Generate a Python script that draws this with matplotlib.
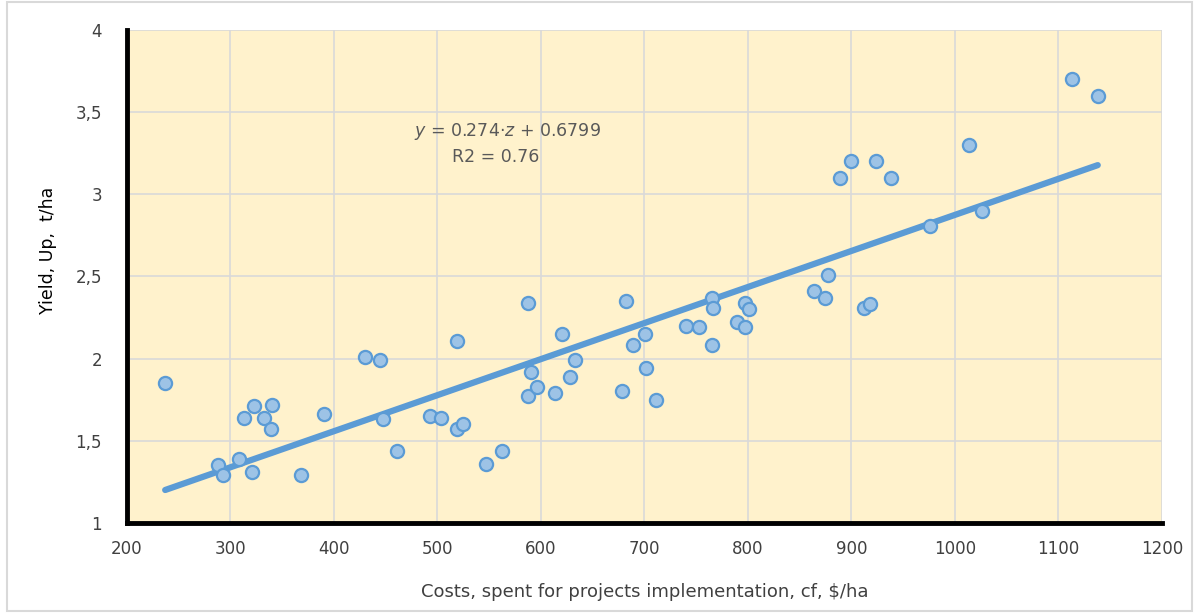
import numpy as np
import matplotlib
matplotlib.use("Agg")
import matplotlib.pyplot as plt
from matplotlib.patches import Rectangle

costs = [237, 288, 293, 308, 313, 323, 321, 332, 339, 340, 368, 390,
         430, 445, 447, 461, 493, 503, 519, 519, 525, 547, 562,
         588, 588, 590, 596, 614, 620, 628, 633,
         678, 682, 689, 701, 702, 711, 740, 753, 765, 766, 765,
         789, 797, 797, 801, 864, 874, 877, 889, 900, 912, 918,
         924, 938, 976, 1014, 1026, 1113, 1138]
yields = [1.85, 1.35, 1.29, 1.39, 1.64, 1.71, 1.31, 1.64, 1.57, 1.72, 1.29, 1.66,
          2.01, 1.99, 1.63, 1.44, 1.65, 1.64, 2.11, 1.57, 1.60, 1.36, 1.44,
          2.34, 1.77, 1.92, 1.83, 1.79, 2.15, 1.89, 1.99,
          1.80, 2.35, 2.08, 2.15, 1.94, 1.75, 2.20, 2.19, 2.37, 2.31, 2.08,
          2.22, 2.34, 2.19, 2.30, 2.41, 2.37, 2.51, 3.10, 3.20, 2.31, 2.33,
          3.20, 3.10, 2.81, 3.30, 2.90, 3.70, 3.60]

x_ticks = [200, 300, 400, 500, 600, 700, 800, 900, 1000, 1100, 1200]
y_ticks = [1, 1.5, 2, 2.5, 3, 3.5, 4]
y_tick_labels = ["1", "1,5", "2", "2,5", "3", "3,5", "4"]
equation_text = r"$y$ = 0.274·$z$ + 0.6799"
r2_text = "R2 = 0.76"
x_label = "Costs, spent for projects implementation, cf, $/ha"
y_label = "Yield, Up,  t/ha"

fig = plt.figure(figsize=(11.97, 6.13), dpi=100)
fig.patch.set_facecolor("white")
fig.patches.append(Rectangle((0.006, 0.004), 0.99, 0.992, transform=fig.transFigure,
                             fill=False, edgecolor="#D9D9D9", linewidth=1.5))

ax = fig.add_axes([0.106, 0.147, 0.8647, 0.804])
ax.set_facecolor("#FFF2CC")
ax.set_xlim(200, 1200)
ax.set_ylim(1, 4)
ax.set_xticks(x_ticks)
ax.set_yticks(y_ticks)
ax.set_yticklabels(y_tick_labels)
ax.grid(True, color="#D9D9D9", linewidth=1.2)
ax.set_axisbelow(True)
for s in ["top", "right"]:
    ax.spines[s].set_visible(False)
for s in ["left", "bottom"]:
    ax.spines[s].set_linewidth(3.5)
    ax.spines[s].set_color("black")
ax.tick_params(length=0, labelsize=12, colors="#404040", pad=12)
ax.tick_params(axis="y", pad=18)

# Trend line from linear regression of data
xs = np.array(costs, dtype=float)
ys = np.array(yields, dtype=float)
k, b = np.polyfit(xs, ys, 1)
xl = np.array([xs.min(), xs.max()])
ax.plot(xl, k * xl + b, color="#5B9BD5", linewidth=4.5, solid_capstyle="round", zorder=3)

ax.scatter(costs, yields, s=90, facecolor="#9DC3E6", edgecolor="#5B9BD5",
           linewidth=1.6, zorder=4)

ax.text(568, 3.385, equation_text, ha="center", va="center", fontsize=12.5,
        color="#595959")
ax.text(556, 3.225, r2_text, ha="center", va="center", fontsize=12.5, color="#595959")

ax.set_xlabel(x_label, fontsize=13, color="#404040", labelpad=18)
ax.set_ylabel(y_label, fontsize=12.5, color="#000000")
ax.yaxis.set_label_coords(-0.0676, 0.552)

fig.savefig("out.png", dpi=100)
